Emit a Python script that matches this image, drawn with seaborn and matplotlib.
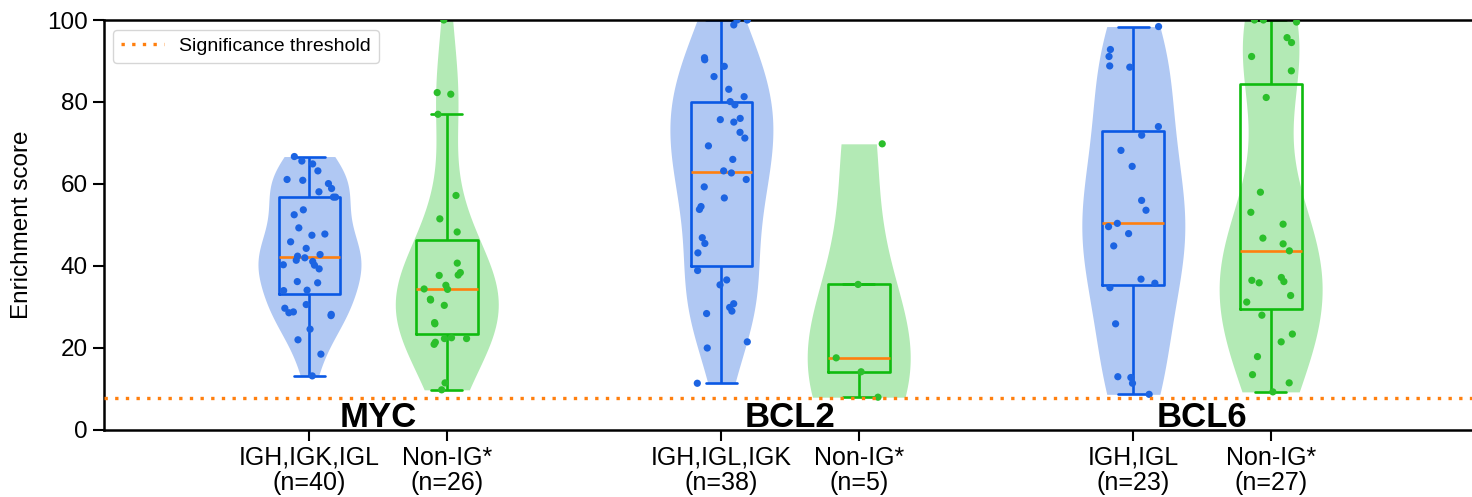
import numpy as np
import pandas as pd
import matplotlib
matplotlib.use("Agg")
import matplotlib.pyplot as plt
import seaborn as sns

# ---------------- data ----------------
genes = ["MYC", "BCL2", "BCL6"]
tick_labels = ["IGH,IGK,IGL\n(n=40)", "Non-IG*\n(n=26)",
               "IGH,IGL,IGK\n(n=38)", "Non-IG*\n(n=5)",
               "IGH,IGL\n(n=23)", "Non-IG*\n(n=27)"]
kinds = ["IG", "Non-IG", "IG", "Non-IG", "IG", "Non-IG"]

myc_ig = [13.2, 18.5, 22.0, 24.6, 27.9, 28.2, 28.6, 28.8, 29.7, 30.6,
          34.0, 34.1, 35.9, 36.2, 39.3, 40.2, 40.3, 41.1, 41.4, 42.0,
          42.4, 42.8, 44.3, 45.9, 47.5, 47.8, 49.3, 52.5, 53.7, 56.8,
          56.8, 58.1, 58.9, 60.1, 60.9, 61.1, 63.2, 64.9, 65.6, 66.7]
myc_non = [9.8, 11.5, 20.9, 21.4, 22.3, 22.3, 22.5, 25.9, 26.2, 30.4,
           31.7, 31.9, 34.3, 34.4, 35.3, 37.7, 37.8, 38.4, 40.7, 48.3,
           51.5, 57.2, 77.0, 81.9, 82.3, 100.0]
bcl2_ig = [11.4, 20.0, 21.5, 28.4, 29.0, 29.9, 30.8, 35.4, 36.6, 38.9,
           43.2, 45.5, 46.9, 53.8, 54.5, 56.6, 59.3, 61.1, 62.7, 63.2,
           66.0, 69.3, 71.2, 72.6, 75.1, 75.7, 76.0, 79.3, 80.1, 81.3,
           83.1, 86.2, 88.7, 90.3, 90.8, 98.8, 100.0, 100.0]
bcl2_non = [8.0, 14.2, 17.6, 35.5, 69.8]
bcl6_ig = [8.7, 11.4, 12.8, 13.0, 25.9, 34.7, 35.8, 36.8, 44.9, 47.9,
           49.6, 50.4, 53.6, 56.0, 64.3, 68.2, 71.9, 74.0, 88.5, 88.8,
           91.1, 92.8, 98.4]
bcl6_non = [9.3, 11.5, 13.5, 17.9, 21.5, 23.4, 28.0, 31.2, 32.8, 35.9,
            36.2, 36.5, 37.2, 43.7, 45.4, 46.8, 50.2, 53.1, 58.0, 81.1,
            87.6, 91.1, 94.5, 95.7, 99.5, 100.0, 100.0]
series = [myc_ig, myc_non, bcl2_ig, bcl2_non, bcl6_ig, bcl6_non]
threshold = 7.8

# ---------------- layout / style ----------------
positions = [0, 1, 3, 4, 6, 7]
fill_cols = {"IG": "#b0c8f3", "Non-IG": "#b3eab5"}
line_cols = {"IG": "#0a58e4", "Non-IG": "#0fbb0f"}
pt_cols = {"IG": "#1c64e2", "Non-IG": "#2bbf2b"}
orange = "#ff7f0e"

rows = []
for p, k, vals in zip(positions, kinds, series):
    for v in vals:
        rows.append({"pos": p, "score": v, "kind": k})
df = pd.DataFrame(rows)

sns.set_style("ticks")
plt.rcParams["font.family"] = ["Liberation Sans", "DejaVu Sans"]
plt.rcParams.update({"text.color": "black", "axes.labelcolor": "black",
                     "xtick.color": "black", "ytick.color": "black",
                     "axes.edgecolor": "black"})

W, H = 1472, 497
fig = plt.figure(figsize=(W / 100, H / 100), dpi=100)
ax = fig.add_axes([103.5 / W, (H - 430) / H, (1476.6 - 103.5) / W, 410 / H])

sns.violinplot(data=df, x="pos", y="score", hue="kind", native_scale=True,
               dodge=False, palette=fill_cols, inner=None, cut=0,
               density_norm="width", width=0.75, linewidth=0, saturation=1,
               legend=False, ax=ax)
sns.boxplot(data=df, x="pos", y="score", hue="kind", native_scale=True,
            dodge=False, palette=line_cols, fill=False, width=0.45,
            showfliers=False, linewidth=1.9, whis=1.5, saturation=1,
            medianprops=dict(color=orange, linewidth=1.9),
            legend=False, ax=ax)
np.random.seed(3)
sns.stripplot(data=df, x="pos", y="score", hue="kind", native_scale=True,
              dodge=False, palette=pt_cols, jitter=0.2, size=5.2,
              linewidth=0, legend=False, zorder=4, ax=ax)

ax.axhline(threshold, color=orange, linestyle=(0, (1, 2.2)), linewidth=2.4,
           label="Significance threshold", zorder=5)

ax.set_xlim(-1.5, 8.5)
ax.set_ylim(0, 100)
ax.set_xticks(positions)
ax.set_xticklabels(tick_labels, fontsize=18, linespacing=1.05)
ax.set_yticks([0, 20, 40, 60, 80, 100])
ax.tick_params(axis="y", labelsize=17.5, length=8, width=1.5,
               colors="black")
ax.tick_params(axis="x", length=8, width=1.5, colors="black")
ax.set_xlabel("")
ax.set_ylabel("Enrichment score", fontsize=17.5, labelpad=10, color="black")
for s in ax.spines.values():
    s.set_linewidth(1.8)
    s.set_color("black")

for i, g in enumerate(genes):
    xc = (positions[2 * i] + positions[2 * i + 1]) / 2
    ax.text(xc, 0.8, g, ha="center", va="baseline", fontsize=25,
            fontweight="bold", color="black", zorder=6)

leg = ax.legend(loc="upper left", fontsize=14, frameon=True,
                borderaxespad=0.5, handlelength=2.2)
for t in leg.get_texts():
    t.set_color("black")

fig.savefig("out.png", dpi=100)
